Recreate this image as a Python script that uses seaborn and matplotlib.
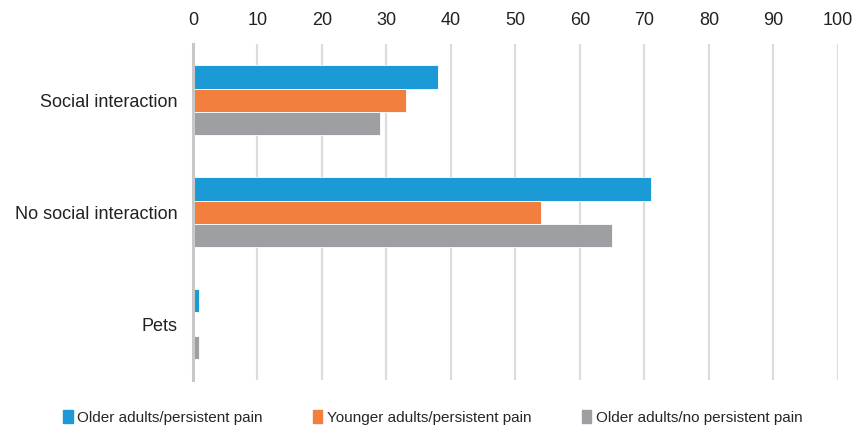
import matplotlib
matplotlib.use("Agg")
import matplotlib.pyplot as plt
import pandas as pd
import seaborn as sns

categories = ["Social interaction", "No social interaction", "Pets"]
series = ["Older adults/persistent pain", "Younger adults/persistent pain", "Older adults/no persistent pain"]
older_pain = [38, 71, 1]
younger_pain = [33, 54, 0]
older_no_pain = [29, 65, 1]
colors = ["#1C9AD6", "#F37F3F", "#9D9FA2"]

rows = []
for name, vals in zip(series, [older_pain, younger_pain, older_no_pain]):
    for cat, v in zip(categories, vals):
        rows.append({"category": cat, "series": name, "value": v})
df = pd.DataFrame(rows)

sns.set_style("white")
plt.rcParams["font.family"] = ["Liberation Sans", "DejaVu Sans"]

fig = plt.figure(figsize=(8.52, 4.28), dpi=100)
ax = fig.add_axes([0.2265, 0.112, 0.757, 0.785])

sns.barplot(data=df, x="value", y="category", hue="series", orient="h",
            palette=colors, saturation=1, width=0.62, ax=ax,
            edgecolor="white", linewidth=0.6, legend=False)

ax.set_xlim(0, 100)
ax.set_xticks(range(0, 101, 10))
ax.set_ylim(2.5, -0.5)
ax.xaxis.tick_top()
ax.grid(axis="x", color="#DCDCDC", linewidth=1.6)
ax.set_axisbelow(True)
for s in ["top", "right", "bottom"]:
    ax.spines[s].set_visible(False)
ax.spines["left"].set_color("#C8C8C8")
ax.spines["left"].set_linewidth(2.2)
ax.tick_params(axis="both", length=0, labelsize=13, colors="#222222")
ax.tick_params(axis="x", pad=11)
ax.tick_params(axis="y", pad=11)
ax.set_xlabel("")
ax.set_ylabel("")

handles = [plt.Rectangle((0, 0), 1, 1, color=c) for c in colors]
fig.legend(handles, series, loc="lower center", bbox_to_anchor=(0.508, -0.025), ncol=3,
           frameon=False, fontsize=11, handlelength=0.6, handleheight=0.9,
           handletextpad=0.3, columnspacing=3.3)

fig.savefig("out.png", dpi=100)
